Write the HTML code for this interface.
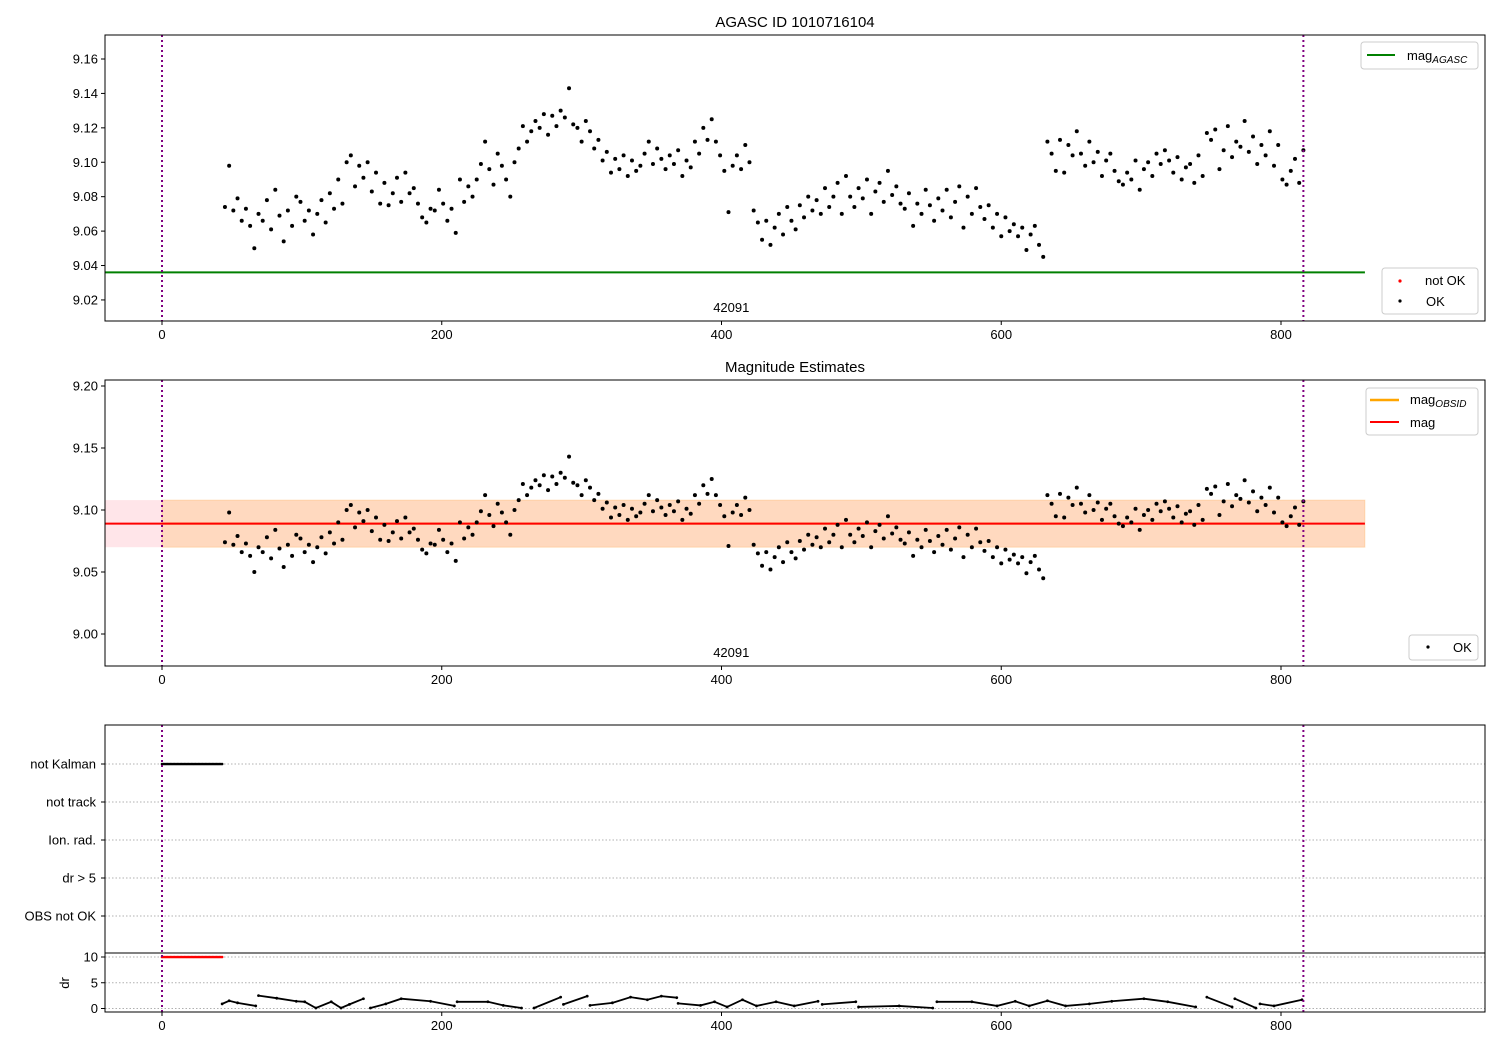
<!DOCTYPE html>
<html><head><meta charset="utf-8">
<style>
html,body{margin:0;padding:0;background:#fff;}
svg{display:block;font-family:"Liberation Sans","DejaVu Sans",sans-serif;}
</style></head>
<body>
<svg id="fig" width="1500" height="1050" viewBox="0 0 1500 1050"></svg>
<script>
// ---- data ----
const magStart = 45, magStep = 3;
const magValues = [
9.074,9.098,9.072,9.079,9.066,9.073,9.063,9.050,9.070,9.066,
9.078,9.061,9.084,9.069,9.054,9.072,9.063,9.080,9.077,9.066,
9.072,9.058,9.070,9.078,9.065,9.082,9.073,9.090,9.076,9.100,
9.104,9.086,9.098,9.091,9.100,9.083,9.094,9.076,9.088,9.075,
9.082,9.091,9.077,9.094,9.082,9.085,9.076,9.068,9.065,9.073,
9.072,9.084,9.076,9.066,9.073,9.059,9.090,9.077,9.086,9.080,
9.090,9.099,9.112,9.096,9.087,9.105,9.098,9.090,9.080,9.100,
9.108,9.121,9.112,9.118,9.124,9.120,9.128,9.116,9.127,9.121,
9.130,9.126,9.143,9.122,9.120,9.112,9.124,9.118,9.108,9.113,
9.101,9.106,9.094,9.102,9.096,9.104,9.092,9.101,9.095,9.098,
9.105,9.112,9.099,9.108,9.102,9.096,9.104,9.099,9.107,9.092,
9.101,9.097,9.112,9.105,9.120,9.113,9.125,9.112,9.104,9.095,
9.071,9.098,9.104,9.096,9.110,9.100,9.072,9.065,9.055,9.066,
9.052,9.062,9.070,9.058,9.074,9.066,9.061,9.075,9.068,9.080,
9.072,9.078,9.070,9.085,9.074,9.080,9.088,9.070,9.092,9.080,
9.074,9.085,9.079,9.090,9.070,9.083,9.088,9.077,9.095,9.081,
9.086,9.076,9.073,9.082,9.063,9.076,9.070,9.084,9.075,9.066,
9.079,9.072,9.084,9.068,9.077,9.086,9.062,9.080,9.070,9.085,
9.074,9.067,9.075,9.062,9.070,9.057,9.068,9.060,9.064,9.057,
9.062,9.049,9.058,9.063,9.052,9.045,9.112,9.105,9.095,9.113,
9.094,9.110,9.104,9.118,9.105,9.098,9.112,9.100,9.106,9.092,
9.101,9.105,9.095,9.089,9.087,9.094,9.090,9.101,9.084,9.096,
9.100,9.092,9.105,9.099,9.107,9.101,9.094,9.103,9.090,9.097,
9.099,9.088,9.104,9.092,9.117,9.113,9.119,9.096,9.107,9.121,
9.103,9.112,9.109,9.124,9.106,9.115,9.099,9.110,9.104,9.118,
9.098,9.110,9.090,9.087,9.095,9.102,9.088,9.107];
const magAgasc = 9.036;
const magMean = 9.089;
const magBand = [9.070, 9.108];
const obsStart = 0, obsEnd = 816;
const obsidLabel = "42091";
const notKalmanRange = [0, 43];
const drFrames = [43,48,54,67,null,69,82,96,102,110,121,128,134,144,null,149,160,171,192,209,null,211,233,244,257,null,266,285,null,287,304,null,306,322,335,347,357,368,null,369,385,395,404,415,425,439,452,469,null,472,496,null,498,527,551,null,554,579,597,610,620,633,646,663,679,702,719,739,null,747,765,null,767,782,null,785,795,815];
const drValues = [0.9,1.5,1.1,0.5,null,2.5,2.0,1.4,1.3,0.1,1.3,0.1,0.8,1.9,null,0.1,0.9,1.9,1.4,0.5,null,1.3,1.3,0.6,0.1,null,0.1,2.2,null,0.8,2.4,null,0.6,1.1,2.2,1.7,2.4,2.1,null,1.0,0.6,1.3,0.3,1.7,0.5,1.3,0.5,1.4,null,0.8,1.3,null,0.3,0.5,0.1,null,1.3,1.3,0.5,1.4,0.5,1.5,0.5,0.9,1.4,1.9,1.3,0.3,null,2.2,0.3,null,1.9,0.1,null,0.9,0.5,1.7];
const xTicks = [0,200,400,600,800];
const p1Ticks = [9.02,9.04,9.06,9.08,9.10,9.12,9.14,9.16];
const p2Ticks = [9.00,9.05,9.10,9.15,9.20];
const flagLabels = ["not Kalman","not track","Ion. rad.","dr > 5","OBS not OK"];
const drTicks = [0,5,10];

// ---- helpers ----
const NS = "http://www.w3.org/2000/svg";
const svg = document.getElementById("fig");
function mk(tag, attrs, parent, text){
  const e = document.createElementNS(NS, tag);
  for (const k in attrs) e.setAttribute(k, attrs[k]);
  if (text !== undefined) e.textContent = text;
  (parent || svg).appendChild(e);
  return e;
}
const AX_L = 105, AX_R = 1485;
const X = f => 162 + (f - 0) * (1281 - 162) / 800;
const Y1 = v => 59 + (9.16 - v) * 1721;
const Y2 = v => 386 + (9.20 - v) * 1240;
const YDR = v => 1008.5 - v * 5.15;
const flagY = [764, 802, 840, 878, 916];

function frame(top, bot, name){
  const r = mk("rect",{x:AX_L,y:top,width:AX_R-AX_L,height:bot-top,fill:"none",stroke:"#000","stroke-width":1});
  
  
}
function xAxis(bot, name){
  const g = mk("g",{});
  
  
  xTicks.forEach(t=>{
    mk("line",{x1:X(t),x2:X(t),y1:bot,y2:bot+4,stroke:"#000"},g);
    mk("text",{x:X(t),y:bot+18,"font-size":13,"text-anchor":"middle",fill:"#000"},g,String(t));
  });
}
function yAxis(ticks, Yf, fmt, name){
  const g = mk("g",{});
  
  
  ticks.forEach(t=>{
    mk("line",{x1:AX_L-4,x2:AX_L,y1:Yf(t),y2:Yf(t),stroke:"#000"},g);
    mk("text",{x:AX_L-7,y:Yf(t)+4.5,"font-size":13,"text-anchor":"end",fill:"#000"},g,fmt(t));
  });
}
function vlines(top, bot, name){
  [obsStart, obsEnd].forEach(f=>{
    const l = mk("line",{x1:X(f),x2:X(f),y1:top,y2:bot,stroke:"#800080","stroke-width":2,"stroke-dasharray":"2,3"});
    
    
  });
}
function points(Yf, name){
  const g = mk("g",{});
  
  
  magValues.forEach((v,i)=>{
    const c = mk("circle",{cx:X(magStart+i*magStep),cy:Yf(v),r:2.0,fill:"#000"},g);
    
    
  });
}

// ---- Panel 1 ----
const t1 = mk("text",{x:795,y:27,"font-size":15,"text-anchor":"middle"},svg,"AGASC ID 1010716104");


const ag = mk("line",{x1:AX_L,x2:X(860),y1:Y1(magAgasc),y2:Y1(magAgasc),stroke:"#008000","stroke-width":2});


points(Y1, 'panel1-points');
vlines(35, 321, 'obsid-boundary');
const o1 = mk("text",{x:X(407),y:312,"font-size":13,"text-anchor":"middle"},svg,obsidLabel);


frame(35, 321, 'panel1-axes');
xAxis(321, 'panel1-x-axis');
yAxis(p1Ticks, Y1, t=>t.toFixed(2), 'panel1-y-axis');
let lg = mk("g",{});


mk("rect",{x:1361,y:42,width:117,height:27,rx:3,fill:"#fff",stroke:"#ccc"},lg);
mk("line",{x1:1367,x2:1395,y1:55,y2:55,stroke:"#008000","stroke-width":2},lg);
let tx = mk("text",{x:1407,y:60,"font-size":13},lg,"mag");
mk("tspan",{"font-size":10,"font-style":"italic",dy:3},tx,"AGASC");
lg = mk("g",{});


mk("rect",{x:1382,y:268,width:96,height:46,rx:3,fill:"#fff",stroke:"#ccc"},lg);
mk("circle",{cx:1400,cy:281,r:1.6,fill:"red"},lg);
mk("text",{x:1425,y:285,"font-size":13},lg,"not OK");
mk("circle",{cx:1400,cy:301,r:1.6,fill:"#000"},lg);
mk("text",{x:1426,y:306,"font-size":13},lg,"OK");

// ---- Panel 2 ----
const t2 = mk("text",{x:795,y:372,"font-size":15,"text-anchor":"middle"},svg,"Magnitude Estimates");


let b = mk("rect",{x:AX_L,y:Y2(magBand[1]),width:X(860)-AX_L,height:Y2(magBand[0])-Y2(magBand[1]),fill:"rgba(255,0,40,0.1)"});


b = mk("rect",{x:X(obsStart),y:Y2(magBand[1]),width:X(860)-X(obsStart),height:Y2(magBand[0])-Y2(magBand[1]),fill:"rgba(255,165,0,0.18)",stroke:"rgba(255,140,0,0.2)"});


let ml = mk("line",{x1:X(obsStart),x2:X(obsEnd),y1:Y2(magMean),y2:Y2(magMean),stroke:"orange","stroke-width":2});


ml = mk("line",{x1:AX_L,x2:X(860),y1:Y2(magMean),y2:Y2(magMean),stroke:"red","stroke-width":2});


points(Y2, 'panel2-points');
vlines(380, 666, 'obsid-boundary');
const o2 = mk("text",{x:X(407),y:657,"font-size":13,"text-anchor":"middle"},svg,obsidLabel);


frame(380, 666, 'panel2-axes');
xAxis(666, 'panel2-x-axis');
yAxis(p2Ticks, Y2, t=>t.toFixed(2), 'panel2-y-axis');
lg = mk("g",{});


mk("rect",{x:1366,y:388,width:112,height:47,rx:3,fill:"#fff",stroke:"#ccc"},lg);
mk("line",{x1:1370,x2:1399,y1:400,y2:400,stroke:"orange","stroke-width":2.5},lg);
tx = mk("text",{x:1410,y:404,"font-size":13},lg,"mag");
mk("tspan",{"font-size":10,"font-style":"italic",dy:3},tx,"OBSID");
mk("line",{x1:1370,x2:1399,y1:422,y2:422,stroke:"red","stroke-width":2},lg);
mk("text",{x:1410,y:427,"font-size":13},lg,"mag");
lg = mk("g",{});


mk("rect",{x:1409,y:635,width:69,height:25,rx:3,fill:"#fff",stroke:"#ccc"},lg);
mk("circle",{cx:1428,cy:647,r:1.6,fill:"#000"},lg);
mk("text",{x:1453,y:652,"font-size":13},lg,"OK");

// ---- Panel 3 flags ----
let gg = mk("g",{});


flagLabels.forEach((lab,i)=>{
  mk("line",{x1:AX_L,x2:AX_R,y1:flagY[i],y2:flagY[i],stroke:"#b0b0b0","stroke-dasharray":"1.5,2"},gg);
  mk("line",{x1:AX_L-4,x2:AX_L,y1:flagY[i],y2:flagY[i],stroke:"#000"},gg);
  const t = mk("text",{x:AX_L-9,y:flagY[i]+4.5,"font-size":13,"text-anchor":"end"},gg,lab);
  
  
});
drTicks.forEach(t=>{
  mk("line",{x1:AX_L,x2:AX_R,y1:YDR(t),y2:YDR(t),stroke:"#b0b0b0","stroke-dasharray":"1.5,2"},gg);
});
const nk = mk("g",{});


for (let f = notKalmanRange[0]; f <= notKalmanRange[1]; f++){
  mk("circle",{cx:X(f),cy:flagY[0],r:1.3,fill:"#000"},nk);
  mk("circle",{cx:X(f),cy:YDR(10),r:1.3,fill:"red"},nk);
}
const drg = mk("g",{});


let seg = [];
function flush(){
  if (seg.length > 1) mk("polyline",{points:seg.join(" "),fill:"none",stroke:"#000","stroke-width":1.8},drg);
  seg = [];
}
drFrames.forEach((f,i)=>{
  if (f === null || drValues[i] === null){ flush(); return; }
  seg.push(X(f)+","+YDR(drValues[i]));
  mk("circle",{cx:X(f),cy:YDR(drValues[i]),r:1.4,fill:"#000"},drg);
});
flush();
vlines(725, 1012, 'obsid-boundary');
frame(725, 953, 'flags-axes');
frame(953, 1012, 'dr-axes');
xAxis(1012, 'dr-x-axis');
yAxis(drTicks, YDR, t=>String(t), 'dr-y-axis');
const dl = mk("text",{x:0,y:0,"font-size":13,"text-anchor":"middle",transform:"translate(69,983) rotate(-90)"},svg,"dr");


</script>
</body></html>
